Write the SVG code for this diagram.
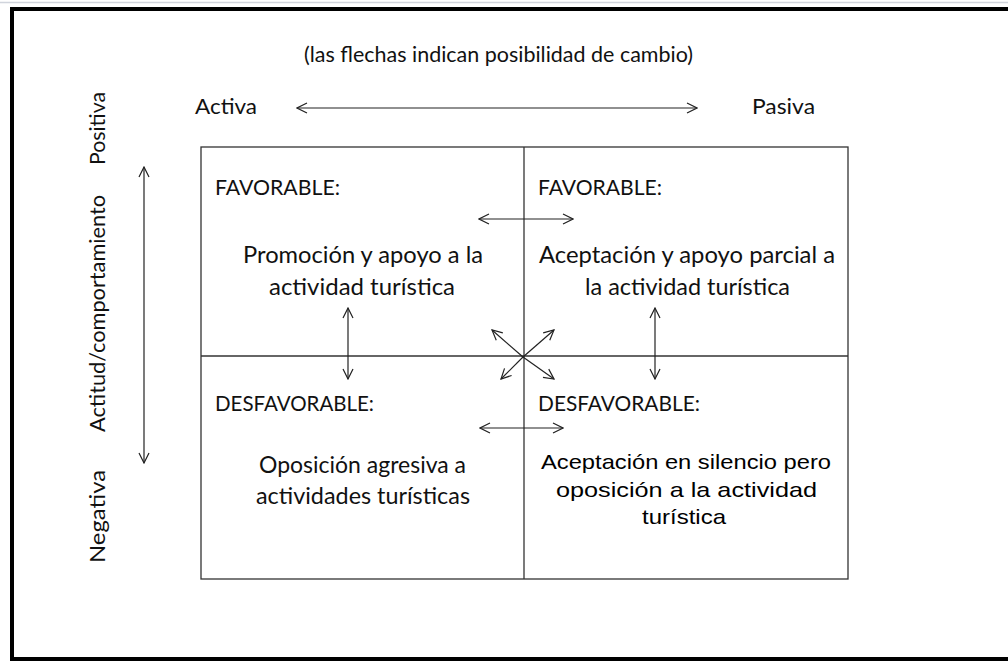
<svg xmlns="http://www.w3.org/2000/svg" width="1008" height="661" viewBox="0 0 1008 661">
<defs>
<marker id="ah" viewBox="0 0 12 12" refX="11" refY="6" markerWidth="12" markerHeight="12" markerUnits="userSpaceOnUse" orient="auto-start-reverse">
<path d="M1,1 L11,6 L1,11" fill="none" stroke="#222" stroke-width="1.2"/>
</marker>
<style>
.t{font-family:Lato,"Open Sans",sans-serif;font-size:21px;fill:#111}
.b{font-family:Lato,"Open Sans",sans-serif;font-size:23px;fill:#111}
.a{font-family:"Liberation Sans",Arial,sans-serif;font-size:21px;fill:#000}
.c{text-anchor:middle}
.ln{stroke:#333;stroke-width:1.3;fill:none}
.ar{stroke:#222;stroke-width:1.2;fill:none;marker-start:url(#ah);marker-end:url(#ah)}
.d{stroke:#222;stroke-width:1.2;fill:none;marker-end:url(#ah)}
</style>
</defs>
<rect width="1008" height="661" fill="#fff"/>
<line x1="0" y1="2.5" x2="1008" y2="2.5" stroke="#d0d4dc" stroke-width="1.5"/>
<path d="M1010,9 H12 V659 H1010" fill="none" stroke="#000" stroke-width="4"/>
<g id="header">
<text class="t c" x="498.5" y="62" textLength="389" lengthAdjust="spacingAndGlyphs">(las flechas indican posibilidad de cambio)</text>
<text class="t" x="195" y="114" textLength="62" lengthAdjust="spacingAndGlyphs">Activa</text>
<text class="t" x="752" y="114" textLength="63" lengthAdjust="spacingAndGlyphs">Pasiva</text>
</g>
<g id="axis-labels">
<text class="t c" transform="translate(105,128.5) rotate(-90)" textLength="73" lengthAdjust="spacingAndGlyphs">Positiva</text>
<text class="t c" transform="translate(105,313.5) rotate(-90)" textLength="237" lengthAdjust="spacingAndGlyphs">Actitud/comportamiento</text>
<text class="t c" transform="translate(105,516.5) rotate(-90)" textLength="93" lengthAdjust="spacingAndGlyphs">Negativa</text>
</g>
<g id="grid">
<rect x="201" y="147" width="647" height="432" class="ln"/>
<line x1="524" y1="147" x2="524" y2="579" class="ln"/>
<line x1="201" y1="356" x2="848" y2="356" class="ln"/>
</g>
<g id="q1">
<text class="t" x="215" y="195" textLength="125" lengthAdjust="spacingAndGlyphs">FAVORABLE:</text>
<text class="b c" x="363" y="263" textLength="240" lengthAdjust="spacingAndGlyphs">Promoción y apoyo a la</text>
<text class="b c" x="362" y="295" textLength="186" lengthAdjust="spacingAndGlyphs">actividad turística</text>
</g>
<g id="q2">
<text class="t" x="538" y="195" textLength="124" lengthAdjust="spacingAndGlyphs">FAVORABLE:</text>
<text class="b c" x="687" y="263" textLength="296" lengthAdjust="spacingAndGlyphs">Aceptación y apoyo parcial a</text>
<text class="b c" x="687.5" y="295" textLength="205" lengthAdjust="spacingAndGlyphs">la actividad turística</text>
</g>
<g id="q3">
<text class="t" x="215" y="411" textLength="159" lengthAdjust="spacingAndGlyphs">DESFAVORABLE:</text>
<text class="b c" x="362.5" y="473" textLength="207" lengthAdjust="spacingAndGlyphs">Oposición agresiva a</text>
<text class="b c" x="363" y="504" textLength="214" lengthAdjust="spacingAndGlyphs">actividades turísticas</text>
</g>
<g id="q4">
<text class="t" x="538" y="411" textLength="162" lengthAdjust="spacingAndGlyphs">DESFAVORABLE:</text>
<text class="a c" x="686" y="469" textLength="290" lengthAdjust="spacingAndGlyphs">Aceptación en silencio pero</text>
<text class="a c" x="686.5" y="497" textLength="261" lengthAdjust="spacingAndGlyphs">oposición a la actividad</text>
<text class="a c" x="684" y="524" textLength="84" lengthAdjust="spacingAndGlyphs">turística</text>
</g>
<g id="connectors">
<line x1="297" y1="108" x2="697" y2="108" class="ar"/>
<line x1="144" y1="167" x2="144" y2="463" class="ar"/>
<line x1="479" y1="219" x2="573" y2="219" class="ar"/>
<line x1="480" y1="428" x2="563" y2="428" class="ar"/>
<line x1="348" y1="308" x2="348" y2="379" class="ar"/>
<line x1="655" y1="308" x2="655" y2="379" class="ar"/>
<line x1="523" y1="357" x2="492" y2="330" class="d"/>
<line x1="523" y1="357" x2="554" y2="330" class="d"/>
<line x1="523" y1="357" x2="501" y2="379" class="d"/>
<line x1="523" y1="357" x2="554" y2="379" class="d"/>
</g>
</svg>
